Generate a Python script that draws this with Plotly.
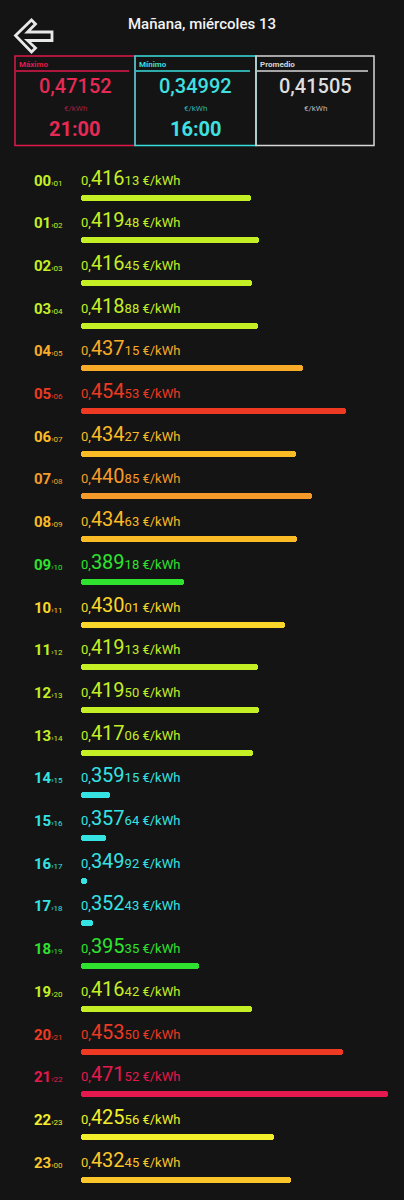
import plotly.graph_objects as go

# ---------------- data ----------------
hours = ["00", "01", "02", "03", "04", "05", "06", "07", "08", "09", "10", "11",
         "12", "13", "14", "15", "16", "17", "18", "19", "20", "21", "22", "23"]
next_hours = ["01", "02", "03", "04", "05", "06", "07", "08", "09", "10", "11", "12",
              "13", "14", "15", "16", "17", "18", "19", "20", "21", "22", "23", "00"]
prices = [0.41613, 0.41948, 0.41645, 0.41888, 0.43715, 0.45453, 0.43427, 0.44085,
          0.43463, 0.38918, 0.43001, 0.41913, 0.41950, 0.41706, 0.35915, 0.35764,
          0.34992, 0.35243, 0.39535, 0.41642, 0.45350, 0.47152, 0.42556, 0.43245]
title_text = "Mañana, miércoles 13"
summary_labels = ["Máximo", "Mínimo", "Promedio"]
summary_values = ["0,47152", "0,34992", "0,41505"]
summary_hours = ["21:00", "16:00", ""]
unit = "€/kWh"

# ---------------- style ----------------
W, H = 404, 1200
BG = "#141414"
FONT = "Roboto"


def color_for(v):
    if v < 0.37:
        return "#35e3e3"
    if v < 0.40:
        return "#2fe22f"
    if v < 0.422:
        return "#c4ef25"
    if v < 0.428:
        return "#f2ee2a"
    if v < 0.431:
        return "#fad62a"
    if v < 0.433:
        return "#fac62a"
    if v < 0.436:
        return "#fabb25"
    if v < 0.439:
        return "#f7ab28"
    if v < 0.445:
        return "#f59a2a"
    if v < 0.46:
        return "#ee3a22"
    return "#e5194e"


colors = [color_for(v) for v in prices]

vmin = min(prices)
px_per_unit = 2475.0
base = vmin - 6 / px_per_unit
x0 = base - 81 / px_per_unit
x1 = x0 + W / px_per_unit

row0 = 197.5
row_step = 42.7
y_top = -row0 / row_step
y_bot = (H - row0) / row_step

idx = list(range(len(prices)))

fig = go.Figure()
fig.add_trace(go.Bar(
    y=idx,
    x=[p - base for p in prices],
    base=base,
    orientation="h",
    width=6 / row_step,
    marker=dict(color=colors, cornerradius=3, line=dict(width=0)),
    hoverinfo="skip",
))


def px(x):
    return x / W


def py(y):
    return 1 - y / H


annotations = []
shapes = []

# rows text
for i, (h, nh, v, c) in enumerate(zip(hours, next_hours, prices, colors)):
    s = f"{v:.5f}"
    a, b = s.split(".")
    big, small = b[:3], b[3:]
    yv = i - 6.0 / row_step
    annotations.append(dict(
        x=px(32), y=yv, xref="paper", yref="y", xanchor="left", yanchor="bottom",
        text=f"<b>{h}</b><span style='font-size:8px'>›{nh}</span>",
        showarrow=False, font=dict(family=FONT, size=15, color=c),
    ))
    annotations.append(dict(
        x=px(79), y=yv, xref="paper", yref="y", xanchor="left", yanchor="bottom",
        text=f"{a},<span style='font-size:20px'>{big}</span>{small} {unit}",
        showarrow=False, font=dict(family=FONT, size=13, color=c),
    ))

# title
annotations.append(dict(
    x=px(202), y=py(24), xref="paper", yref="paper", xanchor="center", yanchor="middle",
    text=title_text, showarrow=False,
    font=dict(family=FONT, size=15, color="#f2f2f2", weight=500),
))

# back arrow (outlined)
pts = [(15.5, 35.5), (31.5, 20), (35.5, 24), (27.5, 32), (52, 32), (52, 40.5),
       (27.5, 40.5), (35.5, 48), (31.5, 52)]
arrow = "M " + " L ".join(f"{px(x)} {py(y)}" for x, y in pts) + " Z"
shapes.append(dict(type="path", path=arrow, xref="paper", yref="paper",
                   line=dict(color="#e8e8e8", width=2.8)))

# summary boxes
box_x = [(15, 135), (135, 256), (256, 374)]
box_col = ["#e0194b", "#38dede", "#d6d6d6"]
val_col = ["#e52a55", "#3fe0e0", "#dedede"]
unit_col = ["#a02040", "#2fb0b0", "#b8b8b8"]
for k in range(3):
    xa, xb = box_x[k]
    shapes.append(dict(type="rect", xref="paper", yref="paper",
                       x0=px(xa), x1=px(xb), y0=py(56), y1=py(145.5),
                       line=dict(color=box_col[k], width=1.5)))
    shapes.append(dict(type="line", xref="paper", yref="paper",
                       x0=px(xa + 1), x1=px(xb - 6), y0=py(71), y1=py(71),
                       line=dict(color=box_col[k], width=1.5)))
    annotations.append(dict(
        x=px(xa + 1.5), y=py(64), xref="paper", yref="paper", xanchor="left", yanchor="middle",
        text=f"<b>{summary_labels[k]}</b>", showarrow=False,
        font=dict(family=FONT, size=8, color=box_col[k]),
    ))
    cx = (xa + xb) / 2
    annotations.append(dict(
        x=px(cx), y=py(86), xref="paper", yref="paper", xanchor="center", yanchor="middle",
        text=summary_values[k], showarrow=False,
        font=dict(family=FONT, size=20, color=val_col[k], weight=500),
    ))
    annotations.append(dict(
        x=px(cx), y=py(109), xref="paper", yref="paper", xanchor="center", yanchor="middle",
        text=unit, showarrow=False,
        font=dict(family=FONT, size=8, color=unit_col[k]),
    ))
    if summary_hours[k]:
        annotations.append(dict(
            x=px(cx), y=py(129), xref="paper", yref="paper", xanchor="center", yanchor="middle",
            text=f"<b>{summary_hours[k]}</b>", showarrow=False,
            font=dict(family=FONT, size=20, color=val_col[k]),
        ))

fig.update_layout(
    width=W, height=H,
    margin=dict(l=0, r=0, t=0, b=0),
    paper_bgcolor=BG, plot_bgcolor=BG,
    showlegend=False,
    xaxis=dict(range=[x0, x1], visible=False, fixedrange=True),
    yaxis=dict(range=[y_bot, y_top], visible=False, fixedrange=True),
    annotations=annotations,
    shapes=shapes,
    bargap=0,
)

fig.write_html(
    "out.html",
    config={"displayModeBar": False},
    post_script="document.body.style.margin='0';document.body.style.background='#141414';"
                "document.documentElement.style.overflow='hidden';",
)
